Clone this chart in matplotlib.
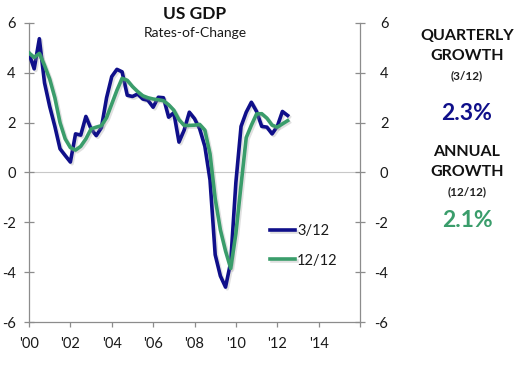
import numpy as np
import matplotlib
matplotlib.use("Agg")
import matplotlib.pyplot as plt
import matplotlib.patheffects as pe

plt.rcParams['font.family'] = ['Lato', 'DejaVu Sans']
plt.rcParams['axes.unicode_minus'] = False

# Quarterly observations, 2000Q1 .. 2012Q3
start_year = 2000
n_quarters = 51
quarter_x = start_year + 0.25 * np.arange(n_quarters)

growth_3_12 = [4.77, 4.16, 5.37, 3.6, 2.65, 1.85, 0.95, 0.68, 0.42, 1.55,
               1.5, 2.25, 1.75, 1.48, 1.8, 3.0, 3.85, 4.14, 4.04, 3.1,
               3.05, 3.15, 2.95, 2.9, 2.62, 3.02, 3.0, 2.22, 2.4, 1.22,
               1.7, 2.42, 2.16, 1.75, 1.05, -0.3, -3.3, -4.15, -4.6, -3.6,
               -0.4, 1.85, 2.42, 2.82, 2.45, 1.85, 1.82, 1.55, 1.85, 2.45,
               2.29]
growth_12_12 = [4.8, 4.62, 4.78, 4.3, 3.75, 3.0, 2.0, 1.35, 1.0, 0.9,
                1.05, 1.35, 1.75, 1.82, 1.88, 2.2, 2.75, 3.3, 3.78, 3.7,
                3.45, 3.25, 3.08, 3.0, 2.95, 2.92, 2.88, 2.72, 2.5, 2.12,
                1.89, 1.89, 1.9, 1.93, 1.7, 0.75, -1.05, -2.3, -3.15, -3.85,
                -2.45, -0.5, 1.4, 1.9, 2.35, 2.36, 2.18, 1.9, 1.82, 1.95,
                2.08]

series_labels = ['3/12', '12/12']
x_ticks = list(range(2000, 2017, 2))
x_tick_labels = ["'00", "'02", "'04", "'06", "'08", "'10", "'12", "'14", ""]
y_ticks = [-6, -4, -2, 0, 2, 4, 6]

latest_quarterly = "2.3%"
latest_annual = "2.1%"

blue = '#0f0f8a'
green = '#3a9d6b'
axis_gray = '#8c8c8c'
text_col = '#1a1a1a'

fig = plt.figure(figsize=(5.25, 3.82), dpi=100)
ax = fig.add_axes([29/525, 1 - 322/382, (360-29)/525, (322-23)/382])

shadow = [pe.SimpleLineShadow(offset=(1.2, -1.2), shadow_color='#999999', alpha=0.3),
          pe.Normal()]
ax.plot(quarter_x, growth_3_12, color=blue, lw=2.6, label=series_labels[0],
        solid_joinstyle='round', path_effects=shadow, zorder=3)
ax.plot(quarter_x, growth_12_12, color=green, lw=2.6, label=series_labels[1],
        solid_joinstyle='round', path_effects=shadow, zorder=4)

ax.axhline(0, color='#c8c8c8', lw=0.8, zorder=1)

ax.set_xlim(2000, 2016)
ax.set_ylim(-6, 6)
ax.set_xticks(x_ticks)
ax.set_xticklabels(x_tick_labels)
ax.set_yticks(y_ticks)

ax.spines['top'].set_visible(False)
ax.spines['right'].set_visible(False)
for s in ['left', 'bottom']:
    ax.spines[s].set_color(axis_gray)
    ax.spines[s].set_linewidth(0.9)

ax.tick_params(axis='x', direction='out', length=3.5, width=0.9, color=axis_gray,
               labelsize=10.5, pad=7, labelcolor=text_col)
ax.tick_params(axis='y', direction='inout', length=7, width=0.9, color=axis_gray,
               labelsize=10.5, pad=6, labelcolor=text_col)

# right-hand axis with right-aligned labels like the reference
ax2 = ax.twinx()
ax2.set_ylim(-6, 6)
ax2.set_yticks(y_ticks)
ax2.spines['top'].set_visible(False)
ax2.spines['left'].set_visible(False)
ax2.spines['bottom'].set_visible(False)
ax2.spines['right'].set_color(axis_gray)
ax2.spines['right'].set_linewidth(0.9)
ax2.tick_params(axis='y', direction='inout', length=7, width=0.9, color=axis_gray,
                labelsize=10.5, pad=17, labelcolor=text_col)
for lab in ax2.get_yticklabels():
    lab.set_horizontalalignment('right')

leg = ax.legend(loc='upper left', bbox_to_anchor=(0.728, 0.327), frameon=False,
                fontsize=10.5, handlelength=1.75, handletextpad=0.1,
                labelspacing=1.05, borderpad=0, borderaxespad=0)
for t in leg.get_texts():
    t.set_color(text_col)
for h in leg.get_lines():
    h.set_linewidth(2.6)

fig.text(195/525, 1 - 14/382, 'US GDP', ha='center', va='center',
         fontsize=12.5, fontweight='bold', color='#111111')
fig.text(195/525, 1 - 33/382, 'Rates-of-Change', ha='center', va='center',
         fontsize=10, color=text_col)

cx = 467/525
fig.text(cx, 1 - 36/382, 'QUARTERLY', ha='center', va='center',
         fontsize=11.5, fontweight='bold', color='#111111')
fig.text(cx, 1 - 56.5/382, 'GROWTH', ha='center', va='center',
         fontsize=11.5, fontweight='bold', color='#111111')
fig.text(cx, 1 - 76/382, '(3/12)', ha='center', va='center',
         fontsize=8.5, fontweight='bold', color='#222222')
fig.text(cx, 1 - 113/382, latest_quarterly, ha='center', va='center',
         fontsize=16.5, fontweight='bold', color=blue)
fig.text(cx, 1 - 152/382, 'ANNUAL', ha='center', va='center',
         fontsize=11.5, fontweight='bold', color='#111111')
fig.text(cx, 1 - 172.5/382, 'GROWTH', ha='center', va='center',
         fontsize=11.5, fontweight='bold', color='#111111')
fig.text(cx, 1 - 192/382, '(12/12)', ha='center', va='center',
         fontsize=8.5, fontweight='bold', color='#222222')
fig.text(cx, 1 - 220/382, latest_annual, ha='center', va='center',
         fontsize=16.5, fontweight='bold', color=green)

fig.savefig('out.png', dpi=100)
